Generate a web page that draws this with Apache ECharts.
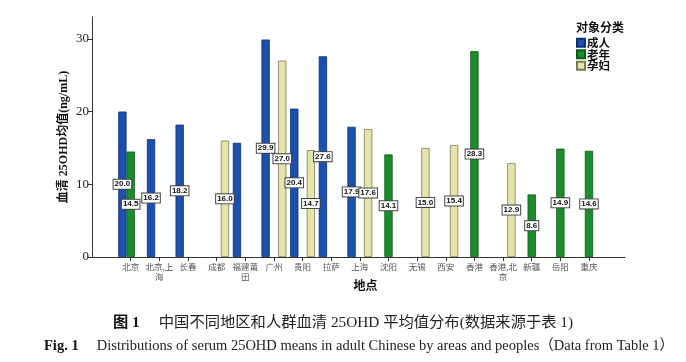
<!DOCTYPE html>
<html>
<head>
<meta charset="utf-8">
<script src="https://cdn.jsdelivr.net/npm/echarts@6/dist/echarts.min.js"></script>
<style>html,body{margin:0;padding:0;background:#fff;}#c{width:686px;height:362px;}</style>
</head>
<body>
<div id="c"></div>
<script>
var categories = ['北京','北京,上\n海','长春','成都','福建莆\n田','广州','贵阳','拉萨','上海','沈阳','无锡','西安','香港','香港,北\n京','新疆','岳阳','重庆'];
var adult    = [20.0, 16.2, 18.2, null, 15.7, 29.9, 20.4, 27.6, 17.9, null, null, null, null, null, null, null, null];
var elderly  = [14.5, null, null, null, null, null, null, null, null, 14.1, null, null, 28.3, null, 8.6, 14.9, 14.6];
var pregnant = [null, null, null, 16.0, null, 27.0, 14.7, null, 17.6, null, 15.0, 15.4, null, 12.9, null, null, null];
var unlabeled = ['福建莆\n田'];
var yTicks = [0, 10, 20, 30];
var seriesNames = ['成人','老年','孕妇'];

var serif = 'Liberation Serif, "Noto Sans CJK SC", serif';
var cjk = '"Noto Sans CJK SC", sans-serif';

function toData(arr) {
  var out = [];
  arr.forEach(function (v, i) {
    if (v == null) return;
    var item = { value: [i, v] };
    if (unlabeled.indexOf(categories[i]) >= 0) item.label = { show: false };
    out.push(item);
  });
  return out;
}

var catIdx = categories.map(function (_, i) { return i; });

var labelStyle = {
  show: true,
  position: 'inside',
  formatter: function (p) { return p.value[1].toFixed(1); },
  fontSize: 8,
  fontFamily: 'Liberation Sans, Arial, sans-serif',
  fontWeight: 'bold',
  color: '#111',
  backgroundColor: '#fff',
  borderColor: '#444',
  borderWidth: 1,
  padding: [1, 1, 0, 1]
};

function mk(name, arr, color, border) {
  return {
    name: name,
    type: 'bar',
    data: toData(arr),
    barWidth: 8.3,
    barGap: '0%',
    itemStyle: { color: color, borderColor: border, borderWidth: 0.8 },
    label: labelStyle,
    emphasis: { disabled: true }
  };
}

var chart = echarts.init(document.getElementById('c'), null, { renderer: 'canvas' });
chart.setOption({
  animation: false,
  backgroundColor: '#fff',
  title: [
    { text: '对象分类', left: 571, top: 16, textStyle: { fontFamily: cjk, fontSize: 12, fontWeight: 'bold', color: '#111' } },
    {
      text: '{b|图 1}　 中国不同地区和人群血清 25OHD 平均值分布(数据来源于表 1)',
      left: 'center', top: 310,
      textStyle: { fontFamily: serif, fontSize: 15.3, fontWeight: 'normal', color: '#222',
        rich: { b: { fontFamily: serif, fontSize: 15.3, fontWeight: 'bold', color: '#111' } } }
    },
    {
      text: '{b|Fig. 1}　 Distributions of serum 25OHD means in adult Chinese by areas and peoples（Data from Table 1）',
      left: 39, top: 334,
      textStyle: { fontFamily: serif, fontSize: 14.5, fontWeight: 'normal', color: '#222',
        rich: { b: { fontFamily: serif, fontSize: 14.5, fontWeight: 'bold', color: '#111' } } }
    }
  ],
  legend: {
    data: seriesNames,
    orient: 'vertical',
    left: 571, top: 32,
    itemWidth: 8, itemHeight: 8, itemGap: 0,
    icon: 'rect',
    textStyle: { fontFamily: cjk, fontSize: 11.5, lineHeight: 11.5, fontWeight: 'bold', color: '#111', padding: [0, 0, 0, -3] }
  },
  grid: { left: 92, right: 61, top: 17, bottom: 105, containLabel: false },
  xAxis: {
    type: 'value',
    min: -1.351, max: 17.257,
    name: '地点',
    nameLocation: 'middle',
    nameGap: 22,
    nameMoveOverlap: false,
    nameTextStyle: { fontFamily: cjk, fontSize: 12, fontWeight: 'bold', color: '#111', padding: [0, 0, 0, 14] },
    axisLine: { show: true, onZero: false, lineStyle: { color: '#333', width: 1 } },
    axisTick: { show: true, length: 4, customValues: catIdx, lineStyle: { color: '#333' } },
    axisLabel: {
      customValues: catIdx,
      formatter: function (v) { return categories[Math.round(v)] || ''; },
      fontFamily: cjk, fontSize: 8.5, color: '#555', lineHeight: 10, margin: 5
    },
    splitLine: { show: false }
  },
  yAxis: {
    type: 'value',
    min: 0, max: 33,
    name: '血清 25OHD均值(ng/mL)',
    nameLocation: 'middle',
    nameGap: 22,
    nameRotate: 90,
    nameMoveOverlap: false,
    nameTextStyle: { fontFamily: serif, fontSize: 12, fontWeight: 'bold', color: '#111' },
    axisLine: { show: true, onZero: false, lineStyle: { color: '#333', width: 1 } },
    axisTick: { show: true, length: 4, customValues: yTicks, lineStyle: { color: '#333' } },
    axisLabel: { customValues: yTicks, fontFamily: serif, fontSize: 13, color: '#222', margin: 3 },
    splitLine: { show: false }
  },
  series: [
    mk(seriesNames[0], adult, '#1d4fae', '#0c2f70'),
    mk(seriesNames[1], elderly, '#1b8d2c', '#0e5a18'),
    mk(seriesNames[2], pregnant, '#e4e4ab', '#7d7d55')
  ]
});
</script>
</body>
</html>
